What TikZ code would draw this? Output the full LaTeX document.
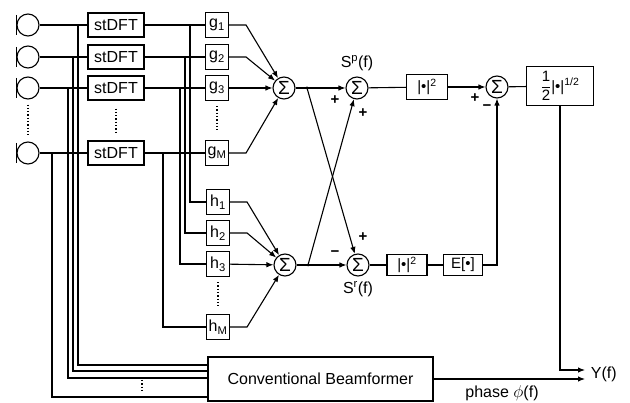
\documentclass[tikz,border=0pt]{standalone}
\usepackage{amsmath}
\usepackage{fontspec}
\setmainfont{Liberation Sans}
\usepackage{tikz}
\usetikzlibrary{arrows.meta}
\tikzset{mic/.style={circle,draw,minimum size=22pt,inner sep=0pt},
dftbox/.style={draw,minimum width=56pt,minimum height=24pt,inner sep=0pt},
filt/.style={draw,minimum width=23pt,minimum height=25pt,inner sep=0pt},
sumnode/.style={circle,draw,minimum size=22pt,inner sep=0pt,font=\fontsize{19}{19}\selectfont},
blk/.style={draw,inner sep=0pt},
sig/.style={-{Latex[length=7pt,width=5.5pt]}},
sgn/.style={font=\fontsize{15}{15}\selectfont\bfseries}}

\begin{document}
\begin{tikzpicture}[x=1pt,y=-1pt,line width=1.1pt,font=\fontsize{16}{18}\selectfont]
    \useasboundingbox (0,0) rectangle (630,403);

    % Microphones
    \node[mic] (m1) at (28,25) {};
    \node[mic] (m2) at (28,57) {};
    \node[mic] (m3) at (28,88) {};
    \node[mic] (mM) at (28,153) {};
    \draw ([yshift=10pt]m1.west) -- ([yshift=-10pt]m1.west);
    \draw ([yshift=10pt]m2.west) -- ([yshift=-10pt]m2.west);
    \draw ([yshift=10pt]m3.west) -- ([yshift=-10pt]m3.west);
    \draw ([yshift=10pt]mM.west) -- ([yshift=-10pt]mM.west);

    % stDFT and filters
    \node[dftbox] (d1) at (116,25) {stDFT};
    \node[dftbox] (d2) at (116,57) {stDFT};
    \node[dftbox] (d3) at (116,88) {stDFT};
    \node[dftbox] (dM) at (116,153) {stDFT};
    \node[filt] (g1) at (217,25) {g\textsubscript{1}};
    \node[filt] (g2) at (217,57) {g\textsubscript{2}};
    \node[filt] (g3) at (217,88) {g\textsubscript{3}};
    \node[filt] (gM) at (217,153) {g\textsubscript{M}};
    \node[filt] (h1) at (218,202) {h\textsubscript{1}};
    \node[filt] (h2) at (218,233) {h\textsubscript{2}};
    \node[filt] (h3) at (218,264) {h\textsubscript{3}};
    \node[filt] (hM) at (218,327) {h\textsubscript{M}};

    % Sums and blocks
    \node[sumnode] (sumG) at (284,88) {Σ};
    \node[sumnode] (sumH) at (285,265) {Σ};
    \node[sumnode] (sumP) at (357,88) {Σ};
    \node[sumnode] (sumR) at (358,265) {Σ};
    \node[sumnode] (sumD) at (497,87) {Σ};
    \node[blk,minimum width=41pt,minimum height=25pt,font=\fontsize{15}{15}\selectfont] (abs1) at (427,87) {|\textbullet|\textsuperscript{2}};
    \node[blk,minimum width=40pt,minimum height=21pt,font=\fontsize{15}{15}\selectfont] (abs2) at (407,265) {|\textbullet|\textsuperscript{2}};
    \node[blk,minimum width=39pt,minimum height=21pt,font=\fontsize{15}{15}\selectfont] (eop) at (463,265) {E[\textbullet]};
    \node[blk,minimum width=67pt,minimum height=39pt,font=\fontsize{15}{15}\selectfont] (fin) at (560,86) {$\dfrac{\text{1}}{\text{2}}$|\textbullet|\textsuperscript{1/2}};
    \node[blk,minimum width=225pt,minimum height=44pt] (bf) at (320.5,379) {Conventional Beamformer};

    % Taps
    \coordinate (t1) at (78,25);
    \coordinate (t2) at (73,57);
    \coordinate (t3) at (68,88);
    \coordinate (tM) at (52,153);
    \coordinate (u1) at (190,25);
    \coordinate (u2) at (185,57);
    \coordinate (u3) at (180,88);
    \coordinate (uM) at (163,153);
    \coordinate (pG) at (307,88);
    \coordinate (pH) at (308,265);
    \coordinate (y1) at (585,370);
    \coordinate (y2) at (585,379);

    % Mic -> stDFT -> g
    \draw (m1) -- (d1) -- (g1);
    \draw (m2) -- (d2) -- (g2);
    \draw (m3) -- (d3) -- (g3);
    \draw (mM) -- (dM) -- (gM);

    % To beamformer
    \draw (t1) |- ([yshift=14pt]bf.west);
    \draw (t2) |- ([yshift=8pt]bf.west);
    \draw (t3) |- ([yshift=1pt]bf.west);
    \draw (tM) |- ([yshift=-18pt]bf.west);

    % To h filters
    \draw (u1) |- (h1);
    \draw (u2) |- (h2);
    \draw (u3) |- (h3);
    \draw (uM) |- (hM);

    % Filters -> sums
    \draw[sig] (g1.east) -- ++(17,0) -- (sumG);
    \draw[sig] (g2.east) -- ++(17,0) -- (sumG);
    \draw[sig] (g3) -- (sumG);
    \draw[sig] (gM.east) -- ++(17,0) -- (sumG);
    \draw[sig] (h1.east) -- ++(17,0) -- (sumH);
    \draw[sig] (h2.east) -- ++(17,0) -- (sumH);
    \draw[sig] (h3) -- (sumH);
    \draw[sig] (hM.east) -- ++(17,0) -- (sumH);

    % Cross
    \draw[sig] (sumG) -- (sumP);
    \draw[sig] (sumH) -- (sumR);
    \draw[sig] (pG) -- (sumR);
    \draw[sig] (pH) -- (sumP);
    \fill (pG) circle (1.5pt) (pH) circle (1.5pt);

    % Power paths
    \draw (sumP) -- (abs1);
    \draw[sig] (abs1) -- (sumD);
    \draw (sumD) -- (fin);
    \draw (sumR) -- (abs2) -- (eop);
    \draw[sig] (eop.east) -| (sumD);

    % Output
    \draw[sig] (fin.south) |- (y1);
    \draw[sig] (bf) -- (y2);
    \node[anchor=west] (yout) at (587,374) {Y(f)};
    \node (phs) at (502,393) {phase $\phi$(f)};

    % Labels and signs
    \node (lP) at (357,63) {S\textsuperscript{p}(f)};
    \node (lR) at (358,289) {S\textsuperscript{r}(f)};
    \node[sgn] at (335,100) {+};
    \node[sgn] at (363,113) {+};
    \node[sgn] at (363,237) {+};
    \node[sgn] at (335,254) {−};
    \node[sgn] at (475,98) {+};
    \node[sgn] at (487,108) {−};

    % Dots
    \draw[dotted,line width=1.3pt] ([yshift=-5pt]m3.south) -- ([yshift=6pt]mM.north);
    \draw[dotted,line width=1.3pt] ([yshift=-8pt]d3.south) -- ([yshift=8pt]dM.north);
    \draw[dotted,line width=1.3pt] ([yshift=-5pt]g3.south) -- ([yshift=8pt]gM.north);
    \draw[dotted,line width=1.3pt] ([yshift=-5pt]h3.south) -- ([yshift=6pt]hM.north);
    \draw[dotted,line width=1.3pt] (142,380) -- (142,393);
\end{tikzpicture}
\end{document}
